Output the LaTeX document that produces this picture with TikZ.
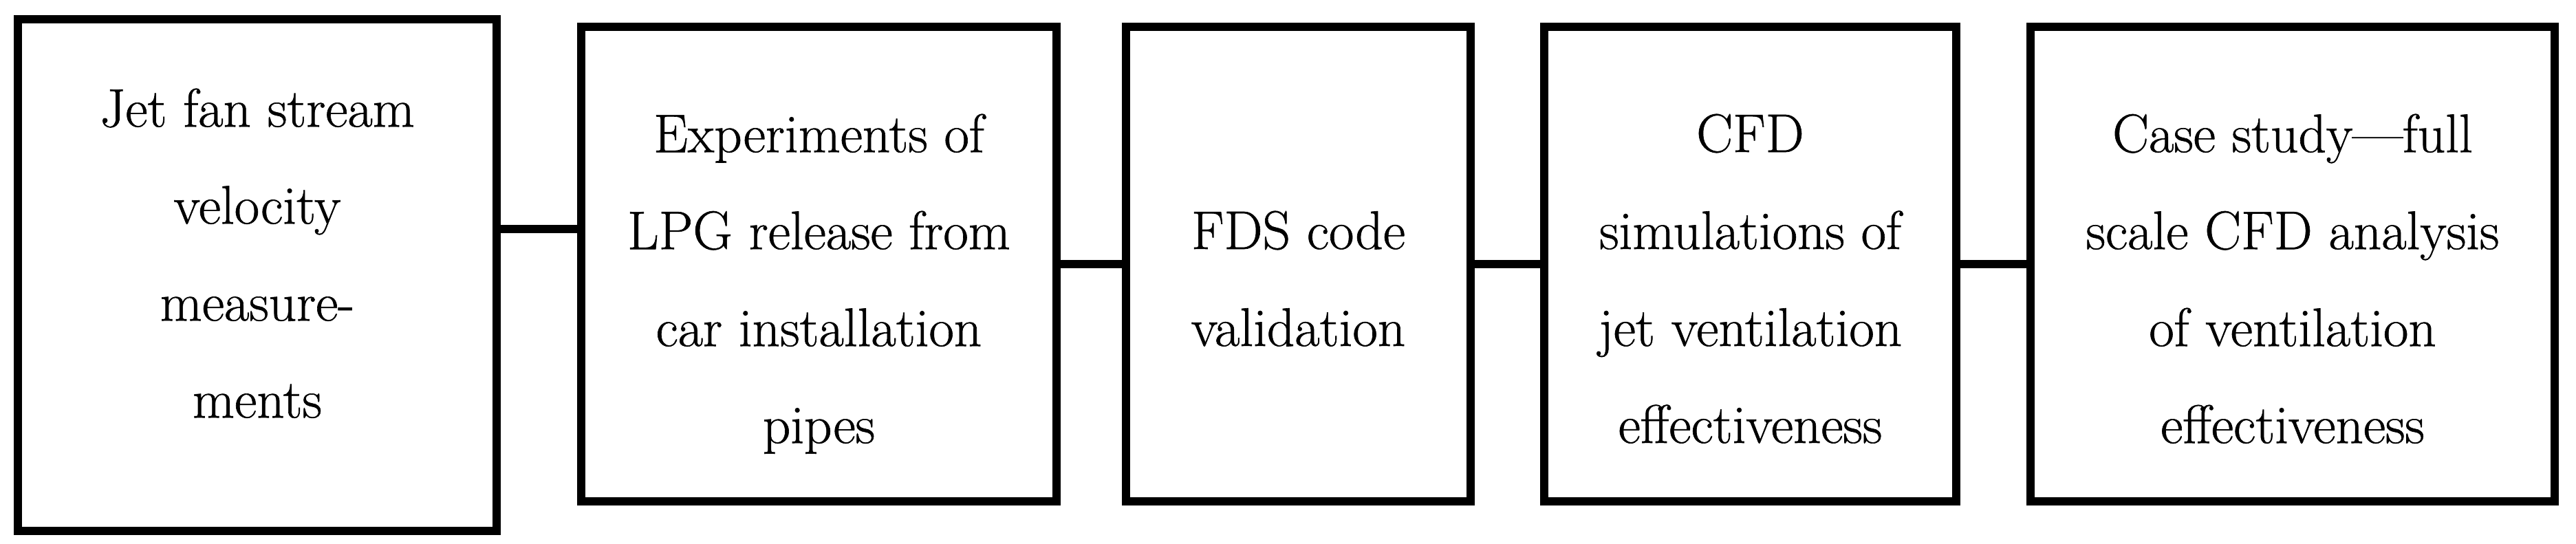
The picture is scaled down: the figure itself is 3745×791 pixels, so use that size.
\documentclass[tikz,border=0pt]{standalone}
\usepackage{fontspec}
\setmainfont{Latin Modern Roman}[FakeBold=0.8]
\begin{document}
\begin{tikzpicture}[x=0.01cm,y=-0.01cm,
  stagebox/.style={draw,rectangle,line width=0.12cm,inner sep=0pt},
  stagetext/.style={align=center,anchor=north,inner sep=0pt,font=\fontsize{22.5}{40.1}\selectfont},
  link/.style={line width=0.12cm}]
\useasboundingbox (0,0) rectangle (3745,791);
\node[stagebox,minimum width=6.96cm,minimum height=7.44cm] (b1) at (374,400) {};
\node[stagebox,minimum width=6.91cm,minimum height=6.90cm] (b2) at (1190.5,384) {};
\node[stagebox,minimum width=5.01cm,minimum height=6.90cm] (b3) at (1887.5,384) {};
\node[stagebox,minimum width=5.99cm,minimum height=6.90cm] (b4) at (2544.5,384) {};
\node[stagebox,minimum width=7.62cm,minimum height=6.90cm] (b5) at (3333,384) {};
\node[stagetext] (t1) at (374,128) {Jet fan stream\\velocity\\measure-\\ments};
\node[stagetext] (t2) at (1190.5,165) {Experiments of\\LPG release from\\car installation\\pipes};
\node[stagetext] (t3) at (1887.5,306) {FDS code\\validation};
\node[stagetext] (t4) at (2544.5,165) {CFD\\simulations of\\jet ventilation\\effectiveness};
\node[stagetext] (t5) at (3333,165) {Case study—full\\scale CFD analysis\\of ventilation\\effectiveness};
\coordinate (j1) at (0,333);
\draw[link] (b1.east |- j1) -- (b2.west |- j1);
\draw[link] (b2.east) -- (b3.west);
\draw[link] (b3.east) -- (b4.west);
\draw[link] (b4.east) -- (b5.west);
\end{tikzpicture}
\end{document}
